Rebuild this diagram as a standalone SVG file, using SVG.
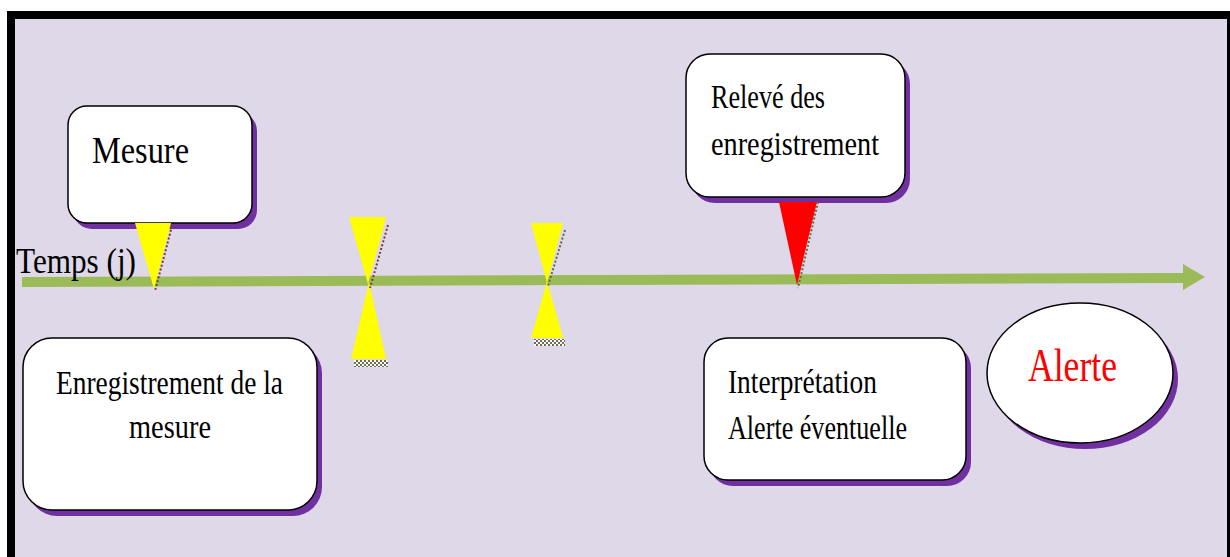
<svg xmlns="http://www.w3.org/2000/svg" width="1230" height="557" viewBox="0 0 1230 557">
<defs>
<style>
.box{fill:#ffffff;stroke:#000000;stroke-width:1.5}
.shadow{fill:#7030A0}
.t{font-family:"Liberation Serif","Times New Roman",serif;fill:#000000}
.yel{fill:#FFFF00}
.edge{stroke:#7a3c3c;stroke-width:2;stroke-dasharray:2 2;fill:none}
.edge2{stroke:#5f6b45;stroke-width:2;stroke-dasharray:2 2;fill:none}
</style>
<pattern id="chk" width="4" height="4" patternUnits="userSpaceOnUse">
<rect width="4" height="4" fill="#ffffff"/>
<rect width="2" height="2" fill="#6e6e55"/>
<rect x="2" y="2" width="2" height="2" fill="#6e6e55"/>
</pattern>
</defs>
<rect x="0" y="0" width="1230" height="557" fill="#ffffff"/>
<rect x="11" y="15" width="1220" height="600" fill="#DED8E8" stroke="#000000" stroke-width="8"/>

<g id="connectors">
<line x1="22" y1="282" x2="1184" y2="278" stroke="#9BBB59" stroke-width="10"/>
<polygon points="1183,264 1205,277 1183,290" fill="#9BBB59"/>
</g>

<g id="mesure">
<rect class="shadow" x="73" y="112" width="184" height="117" rx="19"/>
<rect class="box" x="68" y="106" width="184" height="117" rx="19"/>
<text class="t" x="92" y="163" font-size="38" textLength="97" lengthAdjust="spacingAndGlyphs">Mesure</text>
<polygon class="yel" points="135,223 171,223 154,289"/>
<line class="edge" x1="172" y1="226" x2="155" y2="291"/>
</g>

<g id="temps">
<text class="t" x="16" y="273" font-size="36" textLength="120" lengthAdjust="spacingAndGlyphs">Temps (j)</text>
</g>

<g id="marker1">
<polygon class="yel" points="349,217 386,217 368,284"/>
<polygon class="yel" points="369,282 386,359 351,359"/>
<line class="edge" x1="388" y1="225" x2="370" y2="288"/>
<rect x="354" y="360" width="34" height="7" fill="url(#chk)"/>
</g>

<g id="marker2">
<polygon class="yel" points="531,223 563,223 547,283"/>
<polygon class="yel" points="547,281 563,338 531,338"/>
<line class="edge2" x1="565" y1="230" x2="548" y2="286"/>
<rect x="534" y="339" width="31" height="7" fill="url(#chk)"/>
</g>

<g id="releve">
<rect class="shadow" x="691" y="60" width="219" height="143" rx="24"/>
<rect class="box" x="686" y="54" width="219" height="143" rx="24"/>
<text class="t" x="711" y="108" font-size="34" textLength="114" lengthAdjust="spacingAndGlyphs">Relevé des</text>
<text class="t" x="711" y="155" font-size="34" textLength="168" lengthAdjust="spacingAndGlyphs">enregistrement</text>
<polygon points="779,202 817,202 797,285" fill="#FF0000"/>
<line class="edge2" x1="818" y1="202" x2="798" y2="288"/>
</g>

<g id="enregistrement">
<rect class="shadow" x="28" y="344" width="294" height="172" rx="29"/>
<rect class="box" x="23" y="338" width="294" height="172" rx="29"/>
<text class="t" x="56" y="394" font-size="34" textLength="227" lengthAdjust="spacingAndGlyphs">Enregistrement de la</text>
<text class="t" x="129" y="438" font-size="34" textLength="82" lengthAdjust="spacingAndGlyphs">mesure</text>
</g>

<g id="interpretation">
<rect class="shadow" x="709" y="344" width="262" height="142" rx="24"/>
<rect class="box" x="704" y="338" width="262" height="142" rx="24"/>
<text class="t" x="728" y="393" font-size="34" textLength="149" lengthAdjust="spacingAndGlyphs">Interprétation</text>
<text class="t" x="728" y="439" font-size="34" textLength="179" lengthAdjust="spacingAndGlyphs">Alerte éventuelle</text>
</g>

<g id="alerte">
<ellipse class="shadow" cx="1085" cy="379" rx="93" ry="70"/>
<ellipse class="box" cx="1080" cy="373" rx="93" ry="70"/>
<text class="t" x="1028" y="381" font-size="46" fill="#FF0000" style="fill:#FF0000" textLength="89" lengthAdjust="spacingAndGlyphs">Alerte</text>
</g>
</svg>
